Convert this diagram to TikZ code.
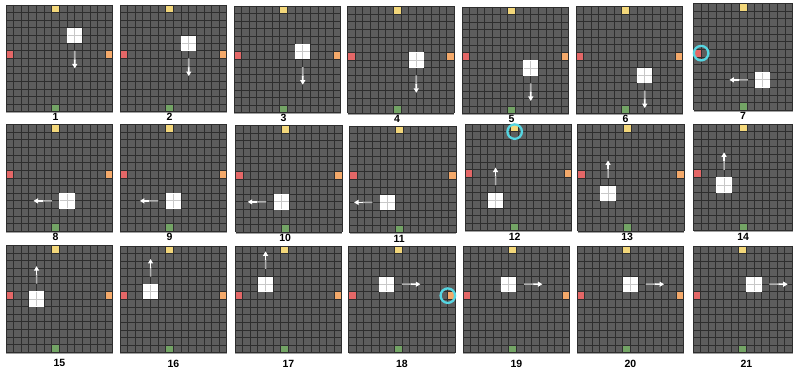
\documentclass[tikz,border=0pt]{standalone}
\usepackage{fontspec}
\setmainfont{Liberation Sans}
\usetikzlibrary{arrows.meta,calc}
\definecolor{cellgray}{HTML}{5D5D5D}
\definecolor{gridc}{HTML}{2E2E2E}
\definecolor{myyellow}{HTML}{F3D77A}
\definecolor{myred}{HTML}{E46767}
\definecolor{myorange}{HTML}{F4A96A}
\definecolor{mygreen}{HTML}{73A465}
\definecolor{ringc}{HTML}{55D6E2}
\definecolor{shaftc}{HTML}{B0B0B0}
\definecolor{blockc}{HTML}{C8C8C8}
\definecolor{bottomc}{HTML}{A0A0A0}
\tikzset{
  gridline/.style={draw=gridc, line width=0.95pt},
  bottomline/.style={draw=bottomc, line width=1pt},
  blockline/.style={draw=blockc, line width=0.8pt},
  shaftA/.style={draw=shaftc, line width=1.6pt},
  shaftB/.style={draw=white, line width=1.6pt, -{Triangle[length=4.5pt,width=5pt]}},
  ring/.style={draw=ringc, line width=2.3pt},
  plabel/.style={font=\fontsize{10.5}{12}\selectfont\bfseries, inner sep=0pt}
}
% #1 x, #2 y (pt, top-left), #3 label, #4 label position (cells), #5 content
\newcommand{\gpanel}[5]{%
\begin{scope}[shift={(#1pt,-#2pt)}, x=7.64pt, y=-7.64pt]
  \fill[cellgray] (0,0) rectangle (14,14);
  \fill[myyellow] (6,0) rectangle (7,1);
  \fill[myred] (0,6) rectangle (1,7);
  \fill[myorange] (13,6) rectangle (14,7);
  \fill[mygreen] (6,13) rectangle (7,14);
  \foreach \i in {0,...,14}{
    \draw[gridline] (\i,0) -- (\i,14);
    \draw[gridline] (0,\i) -- (14,\i);
  }
  \draw[bottomline] (0,14.1) -- (14,14.1);
  #5
  \node[plabel] (lab#3) at (#4) {#3};
\end{scope}}
\newcommand{\blk}[2]{%
  \fill[white] (#1,#2) rectangle ++(2,2);
  \draw[blockline] (#1,#2) ++(1,0.05) -- ++(0,1.9);
  \draw[blockline] (#1,#2) ++(0.05,1) -- ++(1.9,0);}
\newcommand{\mvarrow}[4]{%
  \draw[shaftA] (#1,#2) -- ($(#1,#2)!0.55!(#3,#4)$);
  \draw[shaftB] ($(#1,#2)!0.5!(#3,#4)$) -- (#3,#4);}
\newcommand{\ringat}[2]{\draw[ring] (#1,#2) circle[radius=0.95];}

\begin{document}
\begin{tikzpicture}[x=1pt,y=-1pt]
\useasboundingbox (0,0) rectangle (793,371);
\fill[white] (0,0) rectangle (793,371);
\clip (0,0) rectangle (793,371);
% row 1
\gpanel{6}{5}{1}{6.5,14.66}{\blk{8}{3}\mvarrow{9}{6}{9}{8.3}}
\gpanel{120}{5}{2}{6.5,14.66}{\blk{8}{4}\mvarrow{9}{7}{9}{9.3}}
\gpanel{234}{6}{3}{6.5,14.66}{\blk{8}{5}\mvarrow{9}{8}{9}{10.3}}
\gpanel{347.5}{6.5}{4}{6.5,14.66}{\blk{8}{6}\mvarrow{9}{9}{9}{11.3}}
\gpanel{462}{7}{5}{6.5,14.66}{\blk{8}{7}\mvarrow{9}{10}{9}{12.3}}
\gpanel{576}{6.5}{6}{6.5,14.66}{\blk{8}{8}\mvarrow{9}{11}{9}{13.3}}
\gpanel{693.5}{3.5}{7}{6.5,14.66}{\blk{8}{9}\mvarrow{7.1}{10}{4.7}{10}\ringat{1.0}{6.5}}
% row 2
\gpanel{6}{124.5}{8}{6.5,14.72}{\blk{7}{9}\mvarrow{6}{10}{3.6}{10}}
\gpanel{120}{124.5}{9}{6.5,14.72}{\blk{6}{9}\mvarrow{5}{10}{2.6}{10}}
\gpanel{235.5}{125.5}{10}{6.5,14.72}{\blk{5}{9}\mvarrow{4}{10}{1.6}{10}}
\gpanel{349.5}{126}{11}{6.5,14.72}{\blk{4}{9}\mvarrow{3}{10}{0.6}{10}}
\gpanel{465}{124}{12}{6.5,14.72}{\blk{3}{9}\mvarrow{4}{8}{4}{5.7}\ringat{6.5}{1.0}}
\gpanel{577.5}{124.5}{13}{6.5,14.72}{\blk{3}{8}\mvarrow{4}{7}{4}{4.7}}
\gpanel{693.5}{124}{14}{6.5,14.72}{\blk{3}{7}\mvarrow{4}{6}{4}{3.7}}
% row 3
\gpanel{6}{245.5}{15}{7,15.4}{\blk{3}{6}\mvarrow{4}{5}{4}{2.7}}
\gpanel{120}{246}{16}{7,15.4}{\blk{3}{5}\mvarrow{4}{4}{4}{1.7}}
\gpanel{235}{246}{17}{7,15.4}{\blk{3}{4}\mvarrow{4}{3}{4}{0.7}}
\gpanel{348.5}{246}{18}{7,15.4}{\blk{4}{4}\mvarrow{7}{5}{9.4}{5}\ringat{13.0}{6.5}}
\gpanel{463}{246}{19}{7,15.4}{\blk{5}{4}\mvarrow{8}{5}{10.4}{5}}
\gpanel{577}{246}{20}{7,15.4}{\blk{6}{4}\mvarrow{9}{5}{11.4}{5}}
\gpanel{693}{246}{21}{7,15.4}{\blk{7}{4}\mvarrow{10}{5}{12.4}{5}}
\end{tikzpicture}
\end{document}
